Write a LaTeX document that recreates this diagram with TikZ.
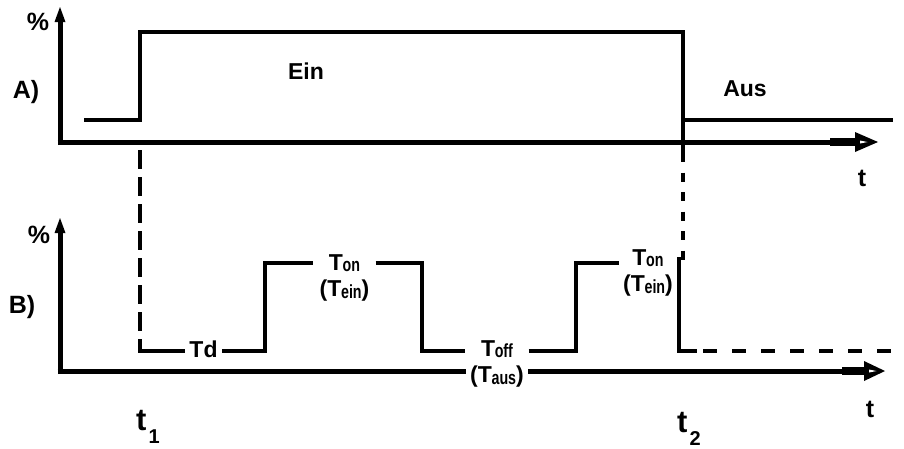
\documentclass[tikz,border=0pt]{standalone}
\usepackage{fontspec}
\setmainfont{Liberation Sans}
\usetikzlibrary{arrows.meta}

% index text: capital T with a small, narrow, lowered suffix
\newcommand\Tidx[1]{T\kern-0.3pt\raisebox{-1.5pt}{\scalebox{0.75}[1]{\fontsize{19}{19}\selectfont #1}}}
% time label: t with a lowered digit
\newcommand\tmark[1]{t\kern2pt\raisebox{-13pt}{\fontsize{20}{20}\selectfont #1}}

\begin{document}
\begin{tikzpicture}[x=1pt,y=-1pt,
  axis/.style={line width=5pt},
  sig/.style={line width=3.8pt},
  big/.style={font=\fontsize{25}{27}\selectfont\bfseries, inner sep=0pt},
  lbl/.style={font=\fontsize{23}{26.5}\selectfont\bfseries, inner sep=0pt, align=center},
  tlbl/.style={font=\fontsize{25}{27}\selectfont\bfseries, inner sep=0pt},
  tmk/.style={font=\fontsize{31}{33}\selectfont\bfseries, inner sep=0pt, anchor=base west},
]
\useasboundingbox (0,0) rectangle (904,448);

% ---------- panel A ----------
\coordinate (oA) at (60,142);
\coordinate (yA) at (60,7);
\draw[axis] (60,145) -- (60,20);
\fill (yA) -- (65.5,22) -- (54.5,22) -- cycle;
\draw[axis] (57.5,142) -- (832,142);
\draw[line width=8pt] (830,142) -- (857,142);
\coordinate (xA) at (878,142);
\fill (855,132) -- (xA) -- (855,152) -- cycle;
\fill[white] (860,140.5) -- (867.5,142) -- (860,143.5) -- cycle;

\node[big] (pA) at (38,22) {\%};
\node[big] (labA) at (26,92) {A)};
\node[tlbl] (tA) at (862,178) {t};

% switching signal
\coordinate (a0) at (84,120);
\coordinate (a1) at (140,120);
\coordinate (a2) at (140,32);
\coordinate (a3) at (683,32);
\coordinate (a4) at (683,120);
\coordinate (a5) at (893,120);
\draw[sig] (a0) -- (a1) -- (a2) -- (a3) -- (a4) -- (a5);
\node[lbl] (ein) at (306,71) {Ein};
\node[lbl] (aus) at (745,89) {Aus};

% ---------- panel B ----------
\coordinate (oB) at (60,371);
\draw[axis] (60,374) -- (60,231);
\fill (60,218) -- (65.5,233) -- (54.5,233) -- cycle;
\draw[axis] (57.5,371) -- (844,371);
\draw[line width=8pt] (842,371) -- (866,371);
\coordinate (xB) at (885,371);
\fill (864,361) -- (xB) -- (864,381) -- cycle;
\fill[white] (869,369.5) -- (876.5,371) -- (869,372.5) -- cycle;

\node[big] (pB) at (39,235) {\%};
\node[big] (labB) at (22,307) {B)};
\node[tlbl] (tB) at (870,409) {t};

% pulse train
\coordinate (b0) at (140,351);
\coordinate (b1) at (265,351);
\coordinate (b2) at (265,263);
\coordinate (b3) at (422,263);
\coordinate (b4) at (422,351);
\coordinate (b5) at (576,351);
\coordinate (b6) at (576,263);
\coordinate (b7) at (679,257);
\coordinate (b8) at (679,351);
\coordinate (b9) at (697,351);
\coordinate (b10) at (893,351);

\node[lbl, inner xsep=4.5pt] (td) at (203.5,349) {Td};
\node[lbl, inner xsep=6pt] (ton1) at (344.5,278) {\Tidx{on}\\(\Tidx{ein})};
\node[lbl, inner xsep=4.5pt, fill=white] (toff) at (497,364) {\Tidx{off}\\(\Tidx{aus})};
\node[lbl, inner xsep=3.5pt] (ton2) at (648,273) {\Tidx{on}\\(\Tidx{ein})};

\draw[sig] (140,341) -- (b0) -- (b0 -| td.west);
\draw[sig] (b1 -| td.east) -- (b1) -- (b2) -- (b2 -| ton1.west);
\draw[sig] (b3 -| ton1.east) -- (b3) -- (b4) -- (b4 -| toff.west);
\draw[sig] (b5 -| toff.east) -- (b5) -- (b6) -- (b6 -| ton2.west);
\draw[sig] (b7) -- (b8) -- (b9);
\draw[sig, dash pattern=on 14pt off 15pt, dash phase=23pt] (b9) -- (b10);

% ---------- time markers ----------
\coordinate (m1) at (140,341);
\coordinate (m2a) at (683,162);
\coordinate (m2) at (683,262);
\draw[sig, dash pattern=on 19pt off 8pt, dash phase=19pt] (oA -| a1) -- (m1);
\draw[sig] (a4) -- (m2a);
\draw[sig, dash pattern=on 9pt off 10.5pt, dash phase=9pt] (m2a) -- (m2);

\node[tmk] (t1) at (136,430) {\tmark{1}};
\node[tmk] (t2) at (677,432) {\tmark{2}};
\end{tikzpicture}
\end{document}
